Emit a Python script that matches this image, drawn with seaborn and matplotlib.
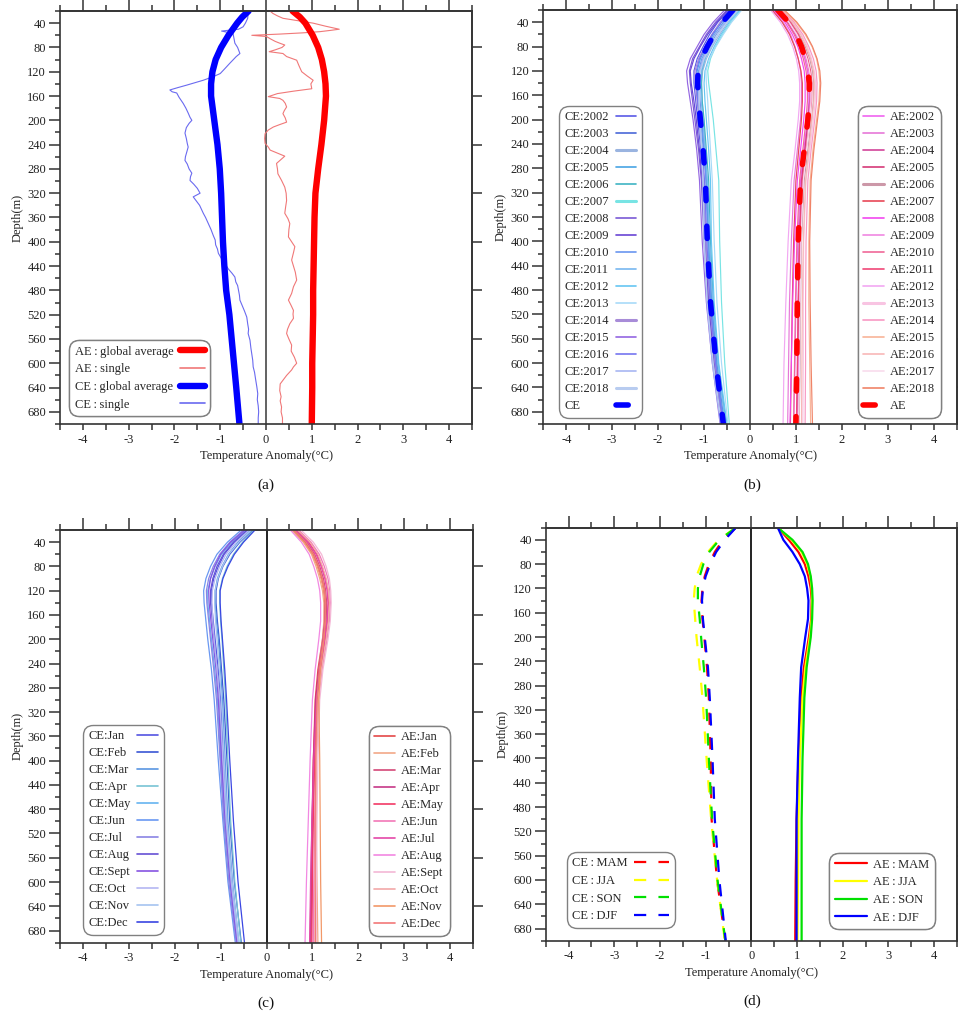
import numpy as np
import pandas as pd
import matplotlib
matplotlib.use("Agg")
import matplotlib.pyplot as plt
import seaborn as sns
from matplotlib.ticker import MultipleLocator, FixedLocator

# ---------------- DATA ----------------
DEPTH = [20, 40, 60, 80, 100, 120, 140, 170, 200, 250, 300, 400, 500, 600, 700]

# panel (a): global averages
A_DEPTH_AVG = [20, 30, 40, 60, 80, 100, 120, 140, 160, 200, 240, 280, 320, 360, 400, 440, 480, 520, 560, 600, 640, 700]
CE_AVG = [-0.38, -0.52, -0.63, -0.82, -0.98, -1.10, -1.17, -1.20, -1.20, -1.13, -1.06, -1.01, -0.98, -0.96, -0.94,
          -0.91, -0.87, -0.80, -0.75, -0.70, -0.65, -0.58]
AE_AVG = [0.58, 0.74, 0.86, 1.02, 1.14, 1.22, 1.27, 1.30, 1.31, 1.27, 1.21, 1.14, 1.08, 1.06, 1.05,
          1.04, 1.03, 1.03, 1.02, 1.01, 1.01, 1.00]

# panel (a): single profiles
CE_SINGLE_D = [20, 24, 32, 40, 46, 50, 53, 55, 57, 65, 73, 80, 90, 95, 106, 115, 123, 128, 134, 138, 142, 146, 150,
               153, 155, 162, 172, 180, 188, 195, 200, 205, 212, 221, 230, 238, 244, 252, 260, 266, 272, 280, 287,
               293, 299, 305, 312, 320, 326, 333, 340, 353, 360, 370, 380, 390, 397, 405, 412, 419, 428, 436, 445,
               452, 458, 466, 472, 480, 488, 496, 505, 514, 524, 535, 544, 551, 562, 575, 585, 595, 606, 615, 625,
               639, 650, 660, 670, 680, 690, 700]
CE_SINGLE_T = [-0.38, -0.39, -0.40, -0.45, -0.50, -0.60, -0.97, -0.85, -0.72, -0.70, -0.68, -0.62, -0.57, -0.65,
               -0.79, -0.90, -1.00, -1.15, -1.37, -1.55, -1.73, -1.92, -2.10, -2.05, -1.95, -1.90, -1.81, -1.75,
               -1.70, -1.66, -1.62, -1.68, -1.74, -1.77, -1.74, -1.72, -1.70, -1.73, -1.76, -1.77, -1.72, -1.68,
               -1.62, -1.65, -1.66, -1.58, -1.50, -1.44, -1.59, -1.52, -1.45, -1.37, -1.32, -1.26, -1.20, -1.15,
               -1.11, -1.10, -1.06, -1.04, -0.97, -0.90, -0.82, -0.74, -0.68, -0.66, -0.62, -0.60, -0.58, -0.57,
               -0.52, -0.47, -0.42, -0.40, -0.38, -0.39, -0.35, -0.33, -0.31, -0.29, -0.28, -0.25, -0.23, -0.20,
               -0.18, -0.19, -0.17, -0.16, -0.17, -0.17]
AE_SINGLE_D = [20, 24, 28, 32, 36, 40, 45, 50, 52, 54, 56, 58, 60, 62, 66, 70, 73, 76, 80, 84, 87, 90, 95, 101, 110,
               120, 127, 134, 140, 148, 152, 156, 161, 164, 167, 172, 178, 184, 189, 196, 203, 207, 211, 216, 222,
               230, 238, 244, 249, 254, 259, 265, 271, 280, 288, 299, 310, 320, 332, 342, 353, 362, 370, 380, 392,
               400, 408, 418, 430, 440, 450, 463, 474, 485, 496, 505, 513, 519, 526, 535, 544, 551, 560, 570, 580,
               590, 600, 606, 611, 620, 627, 634, 645, 655, 662, 672, 680, 690, 700]
AE_SINGLE_T = [0.09, 0.15, 0.25, 0.37, 0.70, 1.03, 1.30, 1.60, 1.40, 1.18, 0.80, 0.30, -0.31, 0.01, 0.10, 0.20,
               0.30, 0.41, 0.35, 0.20, 0.07, 0.37, 0.45, 0.67, 0.72, 0.78, 0.90, 1.03, 0.98, 1.00, 0.60, 0.25,
               0.05, 0.30, 0.37, 0.42, 0.45, 0.40, 0.37, 0.42, 0.45, 0.30, 0.16, 0.05, -0.02, -0.03, -0.02, 0.05,
               0.09, 0.25, 0.41, 0.32, 0.23, 0.25, 0.26, 0.34, 0.41, 0.44, 0.45, 0.43, 0.41, 0.48, 0.52, 0.50,
               0.49, 0.56, 0.63, 0.60, 0.56, 0.60, 0.64, 0.67, 0.60, 0.56, 0.49, 0.55, 0.60, 0.59, 0.60, 0.52,
               0.47, 0.45, 0.50, 0.56, 0.55, 0.62, 0.67, 0.60, 0.56, 0.45, 0.38, 0.31, 0.30, 0.33, 0.31, 0.34,
               0.33, 0.36, 0.36]

# panel (b): yearly profiles
YEARS = ["2002", "2003", "2004", "2005", "2006", "2007", "2008", "2009", "2010", "2011", "2012", "2013", "2014",
         "2015", "2016", "2017", "2018"]
CE_YEAR = {
    "2002": [-0.45, -0.70, -0.88, -1.02, -1.15, -1.22, -1.22, -1.18, -1.14, -1.07, -1.02, -0.97, -0.90, -0.78, -0.62],
    "2003": [-0.30, -0.55, -0.74, -0.90, -1.02, -1.10, -1.11, -1.09, -1.05, -1.00, -0.95, -0.90, -0.83, -0.72, -0.56],
    "2004": [-0.25, -0.48, -0.66, -0.82, -0.95, -1.03, -1.05, -1.04, -1.01, -0.97, -0.93, -0.89, -0.82, -0.70, -0.54],
    "2005": [-0.40, -0.62, -0.80, -0.95, -1.08, -1.15, -1.16, -1.13, -1.08, -1.01, -0.95, -0.90, -0.84, -0.73, -0.57],
    "2006": [-0.35, -0.58, -0.75, -0.88, -0.98, -1.05, -1.06, -1.04, -1.00, -0.95, -0.90, -0.86, -0.80, -0.69, -0.52],
    "2007": [-0.20, -0.42, -0.60, -0.75, -0.86, -0.92, -0.90, -0.85, -0.80, -0.74, -0.68, -0.66, -0.62, -0.55, -0.45],
    "2008": [-0.50, -0.75, -0.95, -1.10, -1.25, -1.32, -1.30, -1.25, -1.20, -1.12, -1.06, -1.00, -0.92, -0.80, -0.63],
    "2009": [-0.48, -0.72, -0.92, -1.08, -1.22, -1.30, -1.28, -1.22, -1.17, -1.10, -1.04, -0.98, -0.90, -0.78, -0.61],
    "2010": [-0.33, -0.57, -0.77, -0.92, -1.05, -1.12, -1.13, -1.10, -1.06, -1.00, -0.96, -0.92, -0.85, -0.74, -0.57],
    "2011": [-0.28, -0.52, -0.70, -0.85, -0.98, -1.06, -1.08, -1.06, -1.03, -0.98, -0.93, -0.88, -0.81, -0.70, -0.53],
    "2012": [-0.22, -0.45, -0.63, -0.78, -0.90, -0.98, -1.00, -0.98, -0.95, -0.90, -0.86, -0.84, -0.78, -0.68, -0.50],
    "2013": [-0.18, -0.40, -0.58, -0.74, -0.88, -0.96, -0.95, -0.92, -0.90, -0.86, -0.82, -0.78, -0.72, -0.62, -0.48],
    "2014": [-0.42, -0.65, -0.83, -0.98, -1.12, -1.20, -1.19, -1.15, -1.11, -1.05, -1.00, -0.96, -0.88, -0.76, -0.60],
    "2015": [-0.55, -0.80, -1.00, -1.15, -1.30, -1.38, -1.36, -1.30, -1.24, -1.16, -1.10, -1.04, -0.95, -0.82, -0.65],
    "2016": [-0.38, -0.62, -0.82, -0.97, -1.10, -1.17, -1.17, -1.14, -1.10, -1.04, -0.99, -0.94, -0.87, -0.75, -0.59],
    "2017": [-0.30, -0.55, -0.75, -0.90, -1.02, -1.10, -1.12, -1.12, -1.10, -1.06, -1.03, -1.00, -0.94, -0.82, -0.64],
    "2018": [-0.26, -0.50, -0.70, -0.86, -1.00, -1.08, -1.10, -1.10, -1.08, -1.05, -1.02, -0.99, -0.93, -0.80, -0.62],
}
AE_YEAR = {
    "2002": [0.55, 0.80, 0.98, 1.10, 1.19, 1.25, 1.28, 1.28, 1.25, 1.17, 1.10, 1.04, 1.00, 0.98, 0.95],
    "2003": [0.50, 0.72, 0.88, 0.98, 1.05, 1.10, 1.12, 1.12, 1.10, 1.03, 0.96, 0.90, 0.86, 0.84, 0.82],
    "2004": [0.62, 0.86, 1.02, 1.14, 1.22, 1.28, 1.31, 1.30, 1.27, 1.19, 1.12, 1.07, 1.05, 1.04, 1.02],
    "2005": [0.58, 0.82, 0.99, 1.12, 1.21, 1.27, 1.30, 1.30, 1.27, 1.20, 1.13, 1.08, 1.06, 1.05, 1.03],
    "2006": [0.65, 0.90, 1.07, 1.20, 1.30, 1.36, 1.39, 1.38, 1.34, 1.26, 1.18, 1.12, 1.10, 1.09, 1.07],
    "2007": [0.48, 0.70, 0.86, 0.97, 1.05, 1.11, 1.14, 1.14, 1.12, 1.06, 1.00, 0.95, 0.92, 0.90, 0.88],
    "2008": [0.52, 0.76, 0.92, 1.04, 1.12, 1.18, 1.20, 1.20, 1.17, 1.10, 1.03, 0.97, 0.93, 0.90, 0.87],
    "2009": [0.60, 0.84, 1.00, 1.12, 1.21, 1.27, 1.30, 1.31, 1.29, 1.22, 1.15, 1.10, 1.08, 1.06, 1.04],
    "2010": [0.57, 0.80, 0.96, 1.08, 1.16, 1.22, 1.25, 1.25, 1.22, 1.15, 1.08, 1.02, 0.99, 0.97, 0.95],
    "2011": [0.63, 0.88, 1.05, 1.17, 1.26, 1.32, 1.35, 1.34, 1.30, 1.22, 1.14, 1.08, 1.05, 1.03, 1.01],
    "2012": [0.45, 0.66, 0.82, 0.93, 1.01, 1.06, 1.08, 1.08, 1.05, 0.98, 0.90, 0.83, 0.78, 0.74, 0.72],
    "2013": [0.68, 0.94, 1.12, 1.25, 1.34, 1.40, 1.43, 1.42, 1.38, 1.30, 1.22, 1.17, 1.16, 1.16, 1.15],
    "2014": [0.70, 0.96, 1.15, 1.28, 1.38, 1.44, 1.46, 1.45, 1.41, 1.33, 1.26, 1.22, 1.21, 1.21, 1.20],
    "2015": [0.72, 1.00, 1.20, 1.35, 1.45, 1.50, 1.52, 1.50, 1.45, 1.37, 1.31, 1.28, 1.28, 1.30, 1.32],
    "2016": [0.66, 0.92, 1.10, 1.23, 1.32, 1.38, 1.40, 1.39, 1.35, 1.28, 1.21, 1.16, 1.14, 1.13, 1.12],
    "2017": [0.60, 0.85, 1.02, 1.15, 1.24, 1.30, 1.33, 1.33, 1.30, 1.23, 1.16, 1.11, 1.09, 1.08, 1.06],
    "2018": [0.75, 1.02, 1.22, 1.36, 1.46, 1.52, 1.54, 1.52, 1.47, 1.39, 1.33, 1.30, 1.31, 1.33, 1.36],
}
CE_YEAR_MEAN = [-0.37, -0.60, -0.78, -0.93, -1.06, -1.13, -1.14, -1.12, -1.08, -1.02, -0.97, -0.93, -0.86, -0.74, -0.58]
AE_YEAR_MEAN = [0.60, 0.84, 1.00, 1.12, 1.20, 1.26, 1.29, 1.29, 1.26, 1.18, 1.10, 1.05, 1.03, 1.02, 1.00]

CE_YEAR_COLORS = ["#5a5ae6", "#4a68d8", "#9ab4e0", "#48a4e4", "#40b4c4", "#78e4e4", "#7a5ad6", "#6a46d4",
                  "#6a96f0", "#78b8f0", "#66c6f2", "#a8daf8", "#a88cd8", "#9466e2", "#7676f0", "#a8b6f2", "#b8ccf0"]
AE_YEAR_COLORS = ["#f064f0", "#e678d8", "#d2449a", "#d63a78", "#cc98a8", "#e84858", "#f248f0", "#f088e2",
                  "#f06898", "#f04878", "#f2a8f2", "#f8c4e2", "#f898c4", "#f8b498", "#f8b8b8", "#f8dcec", "#f08468"]

# panel (c): monthly profiles
MONTHS = ["Jan", "Feb", "Mar", "Apr", "May", "Jun", "Jul", "Aug", "Sept", "Oct", "Nov", "Dec"]
CE_MONTH = {
    "Jan": [-0.40, -0.70, -0.92, -1.05, -1.15, -1.20, -1.20, -1.16, -1.12, -1.05, -1.00, -0.93, -0.86, -0.76, -0.62],
    "Feb": [-0.30, -0.58, -0.80, -0.95, -1.05, -1.10, -1.10, -1.07, -1.03, -0.98, -0.93, -0.86, -0.80, -0.70, -0.55],
    "Mar": [-0.35, -0.62, -0.83, -0.97, -1.07, -1.12, -1.12, -1.09, -1.05, -1.00, -0.96, -0.90, -0.84, -0.74, -0.60],
    "Apr": [-0.28, -0.52, -0.72, -0.86, -0.96, -1.02, -1.02, -1.00, -0.97, -0.93, -0.89, -0.84, -0.78, -0.69, -0.56],
    "May": [-0.45, -0.75, -0.98, -1.12, -1.22, -1.28, -1.28, -1.24, -1.20, -1.13, -1.07, -1.00, -0.92, -0.80, -0.65],
    "Jun": [-0.55, -0.85, -1.08, -1.22, -1.32, -1.37, -1.36, -1.32, -1.28, -1.20, -1.14, -1.05, -0.95, -0.84, -0.68],
    "Jul": [-0.50, -0.80, -1.02, -1.16, -1.26, -1.31, -1.30, -1.26, -1.22, -1.15, -1.09, -1.01, -0.93, -0.82, -0.66],
    "Aug": [-0.42, -0.72, -0.94, -1.08, -1.17, -1.22, -1.22, -1.18, -1.14, -1.08, -1.03, -0.97, -0.89, -0.78, -0.63],
    "Sept": [-0.47, -0.78, -1.00, -1.13, -1.22, -1.26, -1.25, -1.21, -1.17, -1.10, -1.05, -0.98, -0.90, -0.79, -0.64],
    "Oct": [-0.38, -0.66, -0.88, -1.02, -1.12, -1.18, -1.19, -1.17, -1.14, -1.08, -1.02, -0.95, -0.88, -0.77, -0.62],
    "Nov": [-0.33, -0.60, -0.82, -0.96, -1.06, -1.12, -1.13, -1.11, -1.08, -1.03, -0.98, -0.92, -0.86, -0.75, -0.60],
    "Dec": [-0.25, -0.50, -0.70, -0.84, -0.95, -1.01, -1.01, -0.99, -0.96, -0.91, -0.87, -0.80, -0.72, -0.62, -0.48],
}
AE_MONTH = {
    "Jan": [0.60, 0.85, 1.02, 1.12, 1.20, 1.25, 1.27, 1.26, 1.22, 1.12, 1.06, 1.02, 1.00, 0.98, 0.97],
    "Feb": [0.55, 0.80, 0.98, 1.08, 1.16, 1.22, 1.25, 1.25, 1.22, 1.14, 1.10, 1.08, 1.08, 1.10, 1.12],
    "Mar": [0.62, 0.88, 1.05, 1.16, 1.24, 1.29, 1.31, 1.30, 1.26, 1.16, 1.09, 1.04, 1.01, 0.99, 0.97],
    "Apr": [0.58, 0.84, 1.01, 1.12, 1.20, 1.26, 1.28, 1.27, 1.23, 1.14, 1.07, 1.02, 0.99, 0.97, 0.95],
    "May": [0.65, 0.92, 1.10, 1.21, 1.29, 1.34, 1.35, 1.33, 1.28, 1.18, 1.10, 1.05, 1.02, 1.00, 0.99],
    "Jun": [0.70, 0.97, 1.15, 1.26, 1.34, 1.38, 1.39, 1.37, 1.32, 1.21, 1.13, 1.08, 1.05, 1.03, 1.02],
    "Jul": [0.63, 0.90, 1.08, 1.19, 1.27, 1.32, 1.34, 1.32, 1.27, 1.17, 1.09, 1.03, 0.99, 0.96, 0.94],
    "Aug": [0.52, 0.76, 0.93, 1.03, 1.11, 1.16, 1.18, 1.18, 1.14, 1.06, 1.00, 0.95, 0.91, 0.87, 0.84],
    "Sept": [0.75, 1.02, 1.20, 1.30, 1.37, 1.40, 1.41, 1.39, 1.34, 1.23, 1.16, 1.12, 1.10, 1.09, 1.08],
    "Oct": [0.68, 0.95, 1.12, 1.22, 1.30, 1.35, 1.37, 1.35, 1.30, 1.20, 1.13, 1.09, 1.07, 1.06, 1.05],
    "Nov": [0.57, 0.82, 1.00, 1.11, 1.19, 1.25, 1.28, 1.28, 1.25, 1.17, 1.14, 1.16, 1.17, 1.18, 1.20],
    "Dec": [0.60, 0.86, 1.03, 1.14, 1.22, 1.27, 1.29, 1.28, 1.24, 1.15, 1.10, 1.07, 1.06, 1.06, 1.07],
}
CE_MONTH_COLORS = ["#5454e2", "#3a56d4", "#5a96e2", "#78c4d4", "#66b4f0", "#6a98f2", "#8a84e4", "#6650d4",
                   "#8654e2", "#b4b6f2", "#a6c4f0", "#3a46e2"]
AE_MONTH_COLORS = ["#e44848", "#f2a888", "#d44878", "#c63888", "#f23a66", "#f278b8", "#e448a8", "#f288e2",
                   "#f4b8d6", "#f2a8a8", "#f29868", "#f27878"]

# panel (d): seasonal profiles
SEASONS = ["MAM", "JJA", "SON", "DJF"]
SEASON_COLORS = ["#ff0000", "#ffff00", "#00e000", "#0000ff"]
CE_SEASON = {
    "MAM": [-0.34, -0.62, -0.80, -0.93, -1.02, -1.07, -1.09, -1.07, -1.03, -0.97, -0.93, -0.89, -0.87, -0.75, -0.57],
    "JJA": [-0.34, -0.72, -0.95, -1.10, -1.20, -1.24, -1.26, -1.23, -1.20, -1.13, -1.07, -0.98, -0.88, -0.75, -0.58],
    "SON": [-0.34, -0.70, -0.92, -1.05, -1.13, -1.17, -1.17, -1.13, -1.10, -1.04, -0.99, -0.93, -0.86, -0.74, -0.57],
    "DJF": [-0.34, -0.58, -0.77, -0.90, -1.00, -1.06, -1.08, -1.06, -1.02, -0.95, -0.91, -0.85, -0.80, -0.70, -0.56],
}
AE_SEASON = {
    "MAM": [0.58, 0.82, 1.03, 1.17, 1.25, 1.30, 1.32, 1.31, 1.26, 1.15, 1.09, 1.03, 0.99, 0.97, 0.96],
    "JJA": [0.58, 0.88, 1.10, 1.22, 1.29, 1.32, 1.33, 1.32, 1.28, 1.18, 1.12, 1.06, 1.03, 1.02, 1.01],
    "SON": [0.58, 0.90, 1.12, 1.24, 1.30, 1.33, 1.34, 1.33, 1.30, 1.21, 1.16, 1.12, 1.10, 1.10, 1.10],
    "DJF": [0.58, 0.70, 0.90, 1.06, 1.17, 1.22, 1.25, 1.24, 1.18, 1.09, 1.06, 1.02, 0.99, 0.99, 0.99],
}

XLABEL = "Temperature Anomaly(°C)"
YLABEL = "Depth(m)"

# ---------------- FIGURE ----------------
sns.set_style("ticks")
plt.rcParams["font.family"] = ["Liberation Serif", "DejaVu Serif"]
plt.rcParams["axes.unicode_minus"] = False

W, H = 958, 1016
fig = plt.figure(figsize=(W / 100, H / 100), dpi=100)


def add_ax(l, t, r, b):
    return fig.add_axes([l / W, 1 - b / H, (r - l) / W, (b - t) / H])


axA = add_ax(60, 11, 472, 424)
axB = add_ax(543.3, 10, 956.7, 424)
axC = add_ax(60, 530, 473, 942.7)
axD = add_ax(545.7, 527.7, 957, 940.7)

SP = "#333333"


def style(ax, zero_color):
    ax.set_xlim(-4.5, 4.5)
    ax.set_ylim(700, 20)
    ax.axvline(0, color=zero_color, lw=1.3, zorder=0.5)
    ax.xaxis.set_major_locator(MultipleLocator(1))
    ax.xaxis.set_minor_locator(MultipleLocator(0.5))
    ax.yaxis.set_major_locator(FixedLocator(list(range(40, 700, 40))))
    ax.yaxis.set_minor_locator(MultipleLocator(20))
    ax.tick_params(axis="x", which="both", direction="out", length=4, width=1.1, color=SP,
                   bottom=True, top=False, labelsize=9, pad=3, labelcolor="#222")
    ax.tick_params(axis="y", which="major", direction="out", length=8, width=1.1, color=SP,
                   left=True, right=False, labelsize=9, pad=2, labelcolor="#222")
    ax.tick_params(axis="y", which="minor", direction="out", length=3.6, width=1.1, color=SP, left=True, right=False)
    for s in ax.spines.values():
        s.set_color(SP)
        s.set_linewidth(1.2)
    sx = ax.secondary_xaxis("top")
    sx.xaxis.set_major_locator(MultipleLocator(1))
    sx.xaxis.set_minor_locator(MultipleLocator(0.5))
    sx.tick_params(which="major", direction="out", length=9, width=1.1, color=SP, labeltop=False)
    sx.tick_params(which="minor", direction="out", length=4.5, width=1.1, color=SP)
    sx.spines["top"].set_color(SP)
    sx.spines["top"].set_linewidth(1.2)
    sy = ax.secondary_yaxis("right")
    sy.yaxis.set_major_locator(FixedLocator(list(range(80, 700, 80))))
    sy.yaxis.set_minor_locator(FixedLocator([]))
    sy.tick_params(which="major", direction="out", length=7, width=1.1, color=SP, labelright=False)
    sy.spines["right"].set_color(SP)
    sy.spines["right"].set_linewidth(1.2)
    ax.set_xlabel(XLABEL, fontsize=9, labelpad=3, color="#222")
    ax.set_ylabel(YLABEL, fontsize=9, labelpad=3, color="#222")


def line(ax, x, y, color, lw, label=None, **kw):
    sns.lineplot(x=x, y=y, sort=False, estimator=None, color=color, lw=lw, ax=ax,
                 label=label, legend=False, **kw)
    return ax.lines[-1]


LEG = dict(fontsize=9, frameon=True, fancybox=True, edgecolor="#808080", framealpha=1,
           borderaxespad=0, borderpad=0.45)
TEXT_FIRST = []


def legend(ax, handles, loc, anchor, markerfirst, hl, spacing, thick=()):
    leg = ax.legend(handles=handles, loc=loc, bbox_to_anchor=anchor, markerfirst=markerfirst,
                    handlelength=hl, labelspacing=spacing, handletextpad=0.5, **LEG)
    leg.get_frame().set_linewidth(1.0)
    leg.get_frame().set_boxstyle("round,pad=0,rounding_size=0.8")
    for lh, txt in zip(leg.get_lines(), leg.get_texts()):
        if lh.get_linewidth() < 1.2:
            lh.set_linewidth(1.2)
        if txt.get_text() in thick:
            lh.set_linewidth(2.2)
    ax.add_artist(leg)
    if not markerfirst:
        TEXT_FIRST.append(leg)
    return leg


# ---- panel (a)
style(axA, "#555555")
h_ae_single = line(axA, AE_SINGLE_T, AE_SINGLE_D, "#f07878", 0.8, "AE\u2009:\u2009single")
h_ce_single = line(axA, CE_SINGLE_T, CE_SINGLE_D, "#6a6af0", 0.8, "CE\u2009:\u2009single")
h_ae_avg = line(axA, AE_AVG, A_DEPTH_AVG, "#ff0000", 4.6, "AE\u2009:\u2009global average",
                solid_capstyle="round")
h_ce_avg = line(axA, CE_AVG, A_DEPTH_AVG, "#0000ff", 4.6, "CE\u2009:\u2009global average",
                solid_capstyle="round")
legend(axA, [h_ae_avg, h_ae_single, h_ce_avg, h_ce_single], "lower left", (0.022, 0.019), False, 2.0, 0.45)

# ---- panel (b)
style(axB, "#555555")
ce_h, ae_h = [], []
for yr, c in zip(YEARS, CE_YEAR_COLORS):
    ce_h.append(line(axB, CE_YEAR[yr], DEPTH, c, 0.85, "CE:" + yr))
for yr, c in zip(YEARS, AE_YEAR_COLORS):
    ae_h.append(line(axB, AE_YEAR[yr], DEPTH, c, 0.85, "AE:" + yr))
ce_h.append(line(axB, CE_YEAR_MEAN, DEPTH, "#0000ff", 4.0, "CE", linestyle=(0, (2.2, 4.6)),
                 dash_capstyle="round"))
ae_h.append(line(axB, AE_YEAR_MEAN, DEPTH, "#ff0000", 4.0, "AE", linestyle=(0, (2.2, 4.6)),
                 dash_capstyle="round"))
legend(axB, ce_h, "lower left", (0.038, 0.0145), False, 1.65, 0.40,
       thick=("CE:2004", "CE:2007", "CE:2014", "CE:2018"))
legend(axB, ae_h, "lower right", (0.962, 0.0145), True, 1.65, 0.40,
       thick=("AE:2006", "AE:2013"))

# ---- panel (c)
style(axC, "#111111")
ce_h, ae_h = [], []
for m, c in zip(MONTHS, CE_MONTH_COLORS):
    ce_h.append(line(axC, CE_MONTH[m], DEPTH, c, 0.9, "CE:" + m))
for m, c in zip(MONTHS, AE_MONTH_COLORS):
    ae_h.append(line(axC, AE_MONTH[m], DEPTH, c, 0.9, "AE:" + m))
legend(axC, ce_h, "lower left", (0.056, 0.019), False, 1.65, 0.40)
legend(axC, ae_h, "lower right", (0.944, 0.016), True, 1.65, 0.40)

# ---- panel (d)
style(axD, "#111111")
ce_h, ae_h = [], []
for s, c in zip(SEASONS, SEASON_COLORS):
    ce_h.append(line(axD, CE_SEASON[s], DEPTH, c, 1.6, "CE\u2009:\u2009" + s, linestyle=(0, (5.5, 5.5))))
for s, c in zip(SEASONS, SEASON_COLORS):
    ae_h.append(line(axD, AE_SEASON[s], DEPTH, c, 1.6, "AE\u2009:\u2009" + s))
legend(axD, ce_h, "lower left", (0.051, 0.031), False, 2.8, 0.45)
legend(axD, ae_h, "lower right", (0.9466, 0.028), True, 2.6, 0.45)

for xc, yc, t in [(266, 485, "(a)"), (752, 485, "(b)"), (266, 1003, "(c)"), (752, 1001, "(d)")]:
    fig.text(xc / W, 1 - yc / H, t, ha="center", va="center", fontsize=11, color="#111")

# left-align the label text of text-first legends (handles stay in one right-hand column)
fig.canvas.draw()
renderer = fig.canvas.get_renderer()
for leg in TEXT_FIRST:
    for col in leg._legend_handle_box.get_children():
        rows = col.get_children()
        widths = [row.get_children()[0].get_bbox(renderer).width for row in rows]
        wmax = max(widths)
        for row, w in zip(rows, widths):
            row.sep = leg.handletextpad * leg._fontsize + (wmax - w) * 72.0 / fig.dpi

fig.savefig("out.png", dpi=100)
